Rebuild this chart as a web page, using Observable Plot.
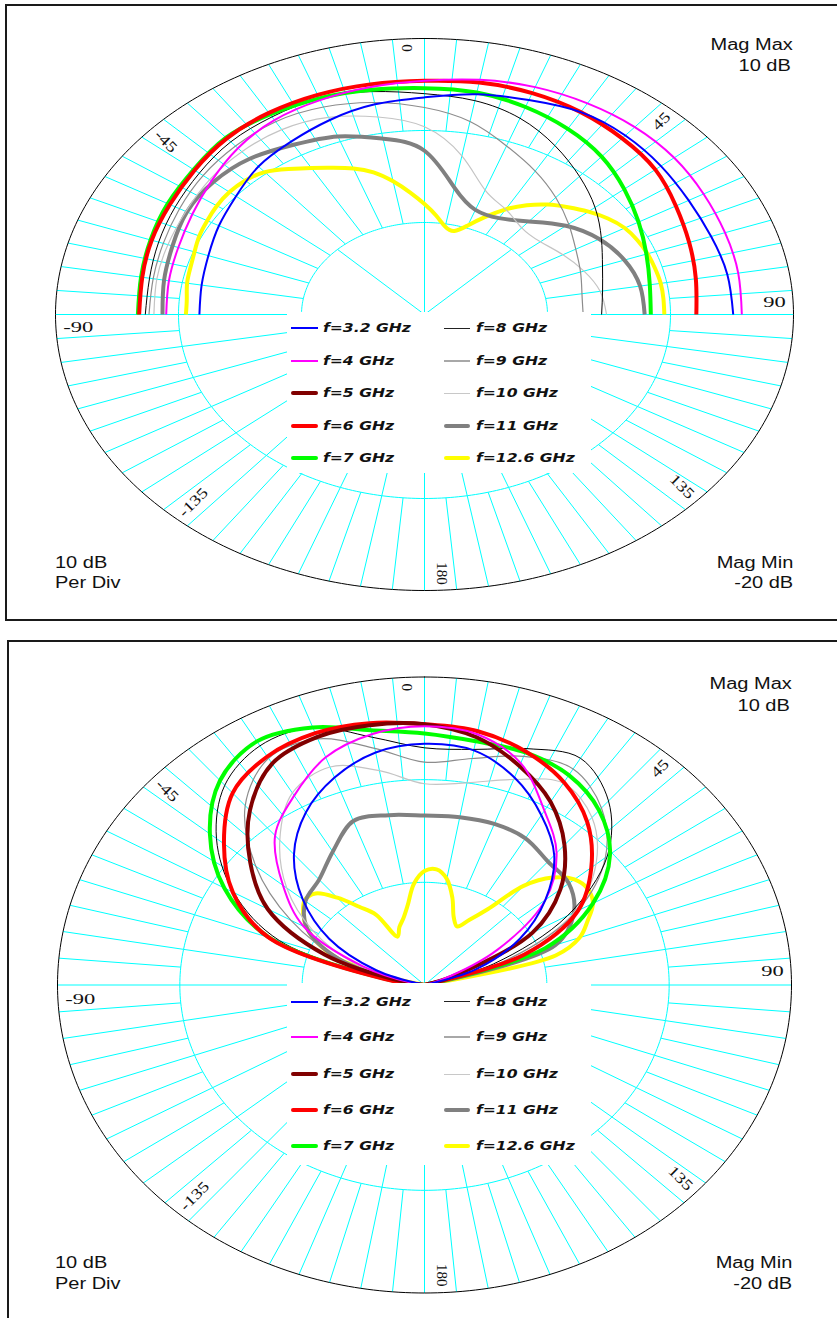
<!DOCTYPE html>
<html>
<head>
<meta charset="utf-8">
<script src="https://cdn.jsdelivr.net/npm/d3@7"></script>
<script src="https://cdn.jsdelivr.net/npm/@observablehq/plot@0.6"></script>
<style>
  html, body { margin:0; padding:0; background:#fff; }
  #page { position:relative; width:837px; height:1318px; overflow:hidden; background:#fff; }
  .frame { position:absolute; border:2px solid #1a1a1a; box-sizing:border-box; }
  .chart { position:absolute; left:0; }
  .legend { position:absolute; background:#fff; }
  .sw { position:absolute; }
  .lt { position:absolute; white-space:nowrap; font-family:"DejaVu Sans",sans-serif; font-weight:bold; font-style:italic;
        font-size:13px; line-height:16px; color:#111; transform:scaleX(1.2); transform-origin:0 50%; }
  .note { position:absolute; white-space:nowrap; font-family:"Liberation Sans",Arial,sans-serif; font-size:16px;
          line-height:18px; color:#111; }
  .note.r { transform:scaleX(1.25); transform-origin:100% 50%; text-align:right; }
  .note.l { transform:scaleX(1.25); transform-origin:0 50%; }
</style>
</head>
<body>
<div id="page"></div>
<script>
// ---------------- data ----------------
const magMax = 10, magMin = -20;          // dB at outer ring / centre
const ringLevels = [-10, 0];              // 10 dB per division
const tickAngles = [0, 45, 90, 135, 180, -135, -90, -45];

const freqLabels = ["f=3.2 GHz","f=4 GHz","f=5 GHz","f=6 GHz","f=7 GHz","f=8 GHz","f=9 GHz","f=10 GHz","f=11 GHz","f=12.6 GHz"];

const angles10 = [-90,-80,-70,-60,-50,-40,-30,-20,-10,0,10,20,30,40,50,60,70,80,90];
const angles5  = [-90,-85,-80,-75,-70,-65,-60,-55,-50,-45,-40,-35,-30,-25,-20,-15,-10,-5,0,5,10,15,20,25,30,35,40,45,50,55,60,65,70,75,80,85,90];

// upper chart (dB vs angle)
const blueTop    = [-1.7,-1.6,-1.3,-0.7,0.0,1.0,1.7,2.5,3.2,3.6,4.3,4.8,5.4,5.4,5.1,4.8,4.8,5.0,5.1];
const magentaTop = [1.0,1.1,1.3,1.8,2.6,3.6,4.4,4.8,5.1,5.4,5.9,6.3,6.5,6.6,6.5,6.2,6.0,5.9,5.8];
const redTop     = [3.2,3.3,3.6,3.9,4.4,5.0,5.3,5.4,5.4,5.4,5.6,5.6,5.4,5.0,4.5,3.6,2.9,2.4,2.1];
const greenTop   = [3.3,3.4,3.7,4.1,4.5,5.1,5.1,5.0,4.8,4.6,4.5,4.0,3.3,2.4,1.2,0.1,-0.8,-1.4,-1.6];
const blackTop   = [2.7,2.7,3.0,3.4,3.9,4.5,4.8,5.0,4.6,4.0,3.6,2.7,1.2,-0.4,-1.9,-3.4,-4.6,-5.3,-5.6];
const gray9Top   = [2.4,2.4,2.6,3.0,3.5,3.9,4.2,4.0,3.4,2.5,1.3,-0.5,-2.0,-3.4,-4.7,-5.8,-6.5,-7.0,-7.1];
const light10Top = [2.0,2.1,2.2,2.4,2.8,3.1,3.2,2.8,1.8,0.4,-2.5,-5.6,-6.8,-7.7,-7.7,-7.0,-6.2,-5.5,-5.2];
const gray11Top  = [1.3,1.5,1.8,2.3,2.4,2.1,1.3,0.6,-0.6,-2.2,-6.0,-7.9,-7.9,-6.8,-5.0,-3.6,-2.7,-2.2,-2.1];
const yellowTop  = [-0.6,-0.6,-0.4,-0.3,-0.1,0.2,0.4,0.6,0.7,0.6,0.2,-0.7,-1.6,-2.4,-3.1,-4.0,-5.3,-6.7,-8.0,
                    -9.2,-10.3,-10.6,-9.7,-8.3,-6.8,-5.5,-4.4,-3.5,-2.6,-1.8,-1.2,-0.9,-0.7,-0.6,-0.5,-0.5,-0.5];

// lower chart (dB vs angle)
const blueBot    = [-20,-20,-15.8,-11.0,-7.0,-3.4,-0.6,1.5,3.0,3.5,3.2,1.5,-0.9,-3.5,-7.1,-11.0,-15.5,-20,-20];
const magentaBot = [-20,-19.1,-14.6,-8.6,-4.9,-1.0,1.3,3.6,4.8,5.2,4.8,3.0,-0.4,-3.2,-7.1,-13.1,-18.5,-20,-20];
const maroonBot  = [-20,-18.5,-11.3,-5.2,-1.4,2.2,4.9,5.7,5.7,5.4,4.5,2.7,0.6,-2.2,-5.5,-9.8,-17.6,-20,-20];
const redBot     = [-20,-16.7,-6.4,-1.9,1.4,4.4,5.7,6.1,5.9,5.4,5.1,4.2,2.8,0.7,-2.2,-5.5,-11.3,-20,-20];
const greenBot   = [-20,-17.0,-6.5,-1.1,2.9,6.0,7.4,6.7,5.2,4.5,4.1,4.1,3.6,2.2,-0.2,-4.1,-9.5,-20,-20];
const blackBot   = [-20,-17.6,-7.4,-2.0,2.2,5.4,6.9,6.7,4.5,3.1,3.3,4.5,5.5,3.4,-0.5,-6.5,-14.0,-20,-20];
const gray9Bot   = [-20,-18.5,-12.8,-7.4,-2.0,2.8,5.5,5.5,3.4,1.7,2.4,3.7,4.3,2.5,-0.7,-5.6,-12.8,-20,-20];
const light10Bot = [-20,-18.8,-14.0,-9.5,-5.3,-1.6,1.6,2.6,1.2,-0.4,0.0,1.3,2.7,1.3,-1.7,-5.9,-12.8,-20,-20];
const gray11Bot  = [-20,-18.2,-12.5,-8.9,-7.3,-6.6,-5.0,-3.0,-3.2,-3.5,-3.4,-3.3,-3.5,-4.3,-4.6,-5.9,-8.6,-20,-20];
const yellowBot  = [-20,-20,-20,-17.3,-12.5,-10.4,-8.9,-7.9,-7.2,-7.4,-8.9,-10.7,-12.1,-14.8,-14.0,-13.3,-12.1,-10.1,-8.9,
                    -8.7,-9.5,-11.2,-13.0,-13.7,-12.7,-11.0,-7.4,-5.2,-4.0,-3.7,-4.1,-5.3,-6.5,-8.9,-20,-20,-20];

// ---------------- styles ----------------
const colors = ["#0000ff","#ff00ff","#800000","#ff0000","#00ff00","#000000","#8c8c8c","#c4c4c4","#808080","#ffff00"];
const widths = [2, 2, 4, 4, 4, 1, 1.2, 1.2, 4, 4];
const swatchColors = ["#0000ff","#ff00ff","#800000","#ff0000","#00ff00","#222222","#a8a8a8","#c8c8c8","#808080","#ffff00"];
const swatchWidths = [2, 2, 4, 4, 4, 1, 2, 1, 4, 4];

// series index -> data (5 GHz trace is not drawn in the upper chart)
const seriesTop = [
  {i:0, a:angles10, v:blueTop}, {i:1, a:angles10, v:magentaTop}, {i:3, a:angles10, v:redTop},
  {i:4, a:angles10, v:greenTop}, {i:5, a:angles10, v:blackTop}, {i:6, a:angles10, v:gray9Top},
  {i:7, a:angles10, v:light10Top}, {i:8, a:angles10, v:gray11Top}, {i:9, a:angles5, v:yellowTop}
];
const seriesBot = [
  {i:0, a:angles10, v:blueBot}, {i:1, a:angles10, v:magentaBot}, {i:2, a:angles10, v:maroonBot},
  {i:3, a:angles10, v:redBot}, {i:4, a:angles10, v:greenBot}, {i:5, a:angles10, v:blackBot},
  {i:6, a:angles10, v:gray9Bot}, {i:7, a:angles10, v:light10Bot}, {i:8, a:angles10, v:gray11Bot},
  {i:9, a:angles5, v:yellowBot}
];

// ---------------- helpers ----------------
const page = document.getElementById("page");
function el(cls, css, text) {
  const d = document.createElement("div");
  d.className = cls;
  Object.assign(d.style, css);
  if (text != null) d.textContent = text;
  page.appendChild(d);
  return d;
}
const rad = a => a * Math.PI / 180;
const rOf = db => Math.max(0, (db - magMin) / (magMax - magMin));
const px = (a, r) => r * Math.sin(rad(a));
const py = (a, r) => r * Math.cos(rad(a));

function polarChart(cfg, series) {
  const ringR = ringLevels.map(rOf);
  const rings = [];
  ringR.forEach((r, k) => { for (let a = 0; a <= 360; a += 1) rings.push({k, x: px(a, r), y: py(a, r)}); });
  const outer = [];
  for (let a = 0; a <= 360; a += 1) outer.push({x: px(a, 1), y: py(a, 1)});
  const spokes = [];
  for (let a = 0; a < 360; a += 5) spokes.push({a, r1: ringR[1], r2: 1});
  for (let a = 0; a < 360; a += 10) spokes.push({a, r1: ringR[0], r2: ringR[1]});
  for (let a = 0; a < 360; a += 45) spokes.push({a, r1: 0, r2: ringR[0]});

  const labels = tickAngles.map(a => ({
    a, text: String(a),
    x: px(a - 2.7, 0.98), y: py(a - 2.7, 0.98),
    rot: a >= 0 ? a - 90 : a + 90
  }));

  const lineMarks = series.slice().reverse().map(s => {
    const pts = [];
    s.a.forEach((a, j) => {
      const r = rOf(s.v[j]);
      const prev = pts[pts.length - 1];
      // a trace below the scale minimum sits in the centre: keep a single centre point there
      if (r === 0 && prev && prev.r === 0) return;
      pts.push({r, x: px(a, r), y: py(a, r)});
    });
    return Plot.line(pts, {x: "x", y: "y", stroke: colors[s.i], strokeWidth: widths[s.i],
      curve: cfg.curve, strokeLinecap: "butt", strokeLinejoin: "round"});
  });

  const textOpts = {x: "x", y: "y", text: "text", rotate: "rot", fontFamily: "Liberation Serif, serif",
    fontSize: 15, fill: "#111"};

  return Plot.plot({
    width: 837, height: cfg.height,
    marginLeft: cfg.ml, marginRight: cfg.mr, marginTop: cfg.mt, marginBottom: cfg.mb,
    x: {domain: [-1, 1], axis: null},
    y: {domain: [-1, 1], axis: null},
    style: {background: "transparent", overflow: "visible"},
    marks: [
      Plot.link(spokes, {x1: d => px(d.a, d.r1), y1: d => py(d.a, d.r1), x2: d => px(d.a, d.r2), y2: d => py(d.a, d.r2),
        stroke: "#00ffff", strokeWidth: 1}),
      Plot.line(rings, {x: "x", y: "y", z: "k", stroke: "#00ffff", strokeWidth: 1}),
      Plot.line(outer, {x: "x", y: "y", stroke: "#000", strokeWidth: 1}),
      ...lineMarks,
      Plot.text(labels.filter(d => d.a >= 0), {...textOpts, textAnchor: "end"}),
      Plot.text(labels.filter(d => d.a < 0), {...textOpts, textAnchor: "start"})
    ]
  });
}

const panels = [
  {top: 0, height: 630, ml: 55, mr: 44, mt: 38, mb: 40, curve: "natural",
   frame: {left: "5px", top: "4px", width: "845px", height: "617px"},
   legendTop: 312, legendH: 161, rows: [16, 48.5, 81, 113.5, 146],
   maxY: [45, 66], minY: [563, 583], right: 44, left: 55, series: seriesTop},
  {top: 640, height: 678, ml: 57, mr: 46, mt: 36.5, mb: 25.5, curve: "catmull-rom",
   frame: {left: "7px", top: "640px", width: "845px", height: "700px"},
   legendTop: 983, legendH: 182, rows: [18.7, 54.3, 91, 127, 163],
   maxY: [684, 706], minY: [1263, 1284], right: 45, left: 55, series: seriesBot}
];

for (const p of panels) {
  el("frame", p.frame);
  const svg = polarChart(p, p.series);
  const wrap = el("chart", {top: p.top + "px", width: "837px", height: p.height + "px"});
  wrap.appendChild(svg);
  // horizontally stretched angle labels, as in the original
  svg.querySelectorAll("text").forEach(t => {
    const s = t.textContent;
    const f = (s === "90" || s === "-90") ? 1.5 : (s === "45" || s === "-45" || s === "135" || s === "-135") ? 1.25 : 1;
    if (f !== 1) {
      const L = t.getComputedTextLength();
      t.setAttribute("textLength", (L * f).toFixed(1));
      t.setAttribute("lengthAdjust", "spacingAndGlyphs");
    }
  });

  // legend box (covers the lower centre of the chart)
  const lg = el("legend", {left: "287px", top: p.legendTop + "px", width: "304px", height: p.legendH + "px"});
  freqLabels.forEach((lab, i) => {
    const col = i < 5 ? 0 : 1, row = i % 5;
    const cy = p.rows[row];
    const sx = col === 0 ? 4 : 157, sw = col === 0 ? 27 : 26, tx = col === 0 ? 36 : 189;
    const w = swatchWidths[i];
    const s = document.createElement("div");
    s.className = "sw";
    Object.assign(s.style, {left: sx + "px", top: (cy - w / 2) + "px", width: sw + "px", height: w + "px",
      background: swatchColors[i], borderRadius: w > 2 ? "2px" : "0"});
    lg.appendChild(s);
    const t = document.createElement("div");
    t.className = "lt";
    Object.assign(t.style, {left: tx + "px", top: (cy - 8) + "px"});
    t.textContent = lab;
    lg.appendChild(t);
  });

  // corner notes
  el("note r", {right: p.right + "px", top: (p.maxY[0] - 9) + "px"}, "Mag Max");
  el("note r", {right: (p.right + 2) + "px", top: (p.maxY[1] - 9) + "px"}, "10 dB");
  el("note l", {left: p.left + "px", top: (p.minY[0] - 9) + "px"}, "10 dB");
  el("note l", {left: p.left + "px", top: (p.minY[1] - 9) + "px"}, "Per Div");
  el("note r", {right: p.right + "px", top: (p.minY[0] - 9) + "px"}, "Mag Min");
  el("note r", {right: p.right + "px", top: (p.minY[1] - 9) + "px"}, "-20 dB");
}
</script>
</body>
</html>
